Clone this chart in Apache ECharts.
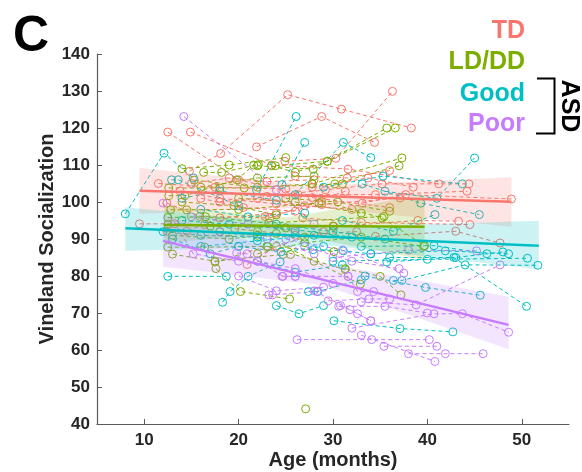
<!DOCTYPE html>
<html>
<head>
<meta charset="utf-8">
<script src="https://cdn.jsdelivr.net/npm/echarts@6/dist/echarts.min.js"></script>
<style>
html, body { margin: 0; padding: 0; background: #fff; }
#chart { width: 582px; height: 472px; }
</style>
</head>
<body>
<div id="chart"></div>
<script>
// Longitudinal Vineland Socialization scores by diagnostic group.
// Each subject is a list of [age in months, score] visits.
const groupNames = ['TD', 'LD/DD', 'Good', 'Poor'];
const groupColors = ['#F8766D', '#7CAE00', '#00BFC4', '#C77CFF'];

const tdSubjects = [
  [[14.8,108.3],[18.1,113.1],[25.2,129],[30.9,125.1],[38.3,120]],
  [[12.5,118.9],[20,106],[27.8,101.2],[36,98.5]],
  [[14.9,118.9],[23.5,110],[31.6,108.9],[41.2,104.9]],
  [[21.9,114.9],[28.8,123.1],[34.4,116.1]],
  [[24.9,111],[30.3,111.8],[36.3,129.9]],
  [[9.5,94.1],[13.2,94.1],[16.4,93.9]],
  [[12.4,99.7],[15.9,96.1],[23.3,95.7],[31.3,102.9]],
  [[23,101.5],[29.2,103.3],[35.2,104.9],[44.4,104.9]],
  [[26.3,102],[34.5,102],[44.2,102.9]],
  [[33.1,99.7],[37.7,102],[48.9,100.8]],
  [[22.8,96.1],[28.8,99.3],[37.1,101.1]],
  [[30.1,93.4],[39,95],[43.3,94.8]],
  [[34.5,90.7],[43,92.1],[47.7,88.9]],
  [[26.8,95.7],[33,94.5],[44.5,93.9]],
  [[12.4,92.1],[14.5,92.1],[18,95.7],[24,97]],
  [[20.9,83.1],[24,88],[29,92]],
  [[13.8,103],[18,101],[24,99.5],[32,98]],
  [[16,101],[20.5,98.5],[26,97.5]],
  [[11.5,105],[17.5,104],[25,103.5]],
  [[27.8,104],[33.7,106.5],[38.5,104]],
  [[19.6,92.8],[26,91],[32.5,92]],
  [[15,105],[19,106.5],[23,105.5],[28,106]],
  [[18,100],[22,101],[27,99]],
  [[26,107],[31.5,106.5],[36,108.5]]
];

const lddSubjects = [
  [[22,109.8],[27.9,108.9],[35.7,120]],
  [[23.9,109.8],[29.4,111],[36.6,120]],
  [[27.8,104.9],[37.3,111.9]],
  [[30.2,104.9],[37,109.8]],
  [[16.3,108],[18.2,108],[22.1,110.1]],
  [[23.5,109.8],[26,108],[29.4,111]],
  [[12.6,103.8],[18,103.8],[20.6,103.8],[27.8,104.9]],
  [[12.6,101.7],[14.3,101.7],[19.8,106],[21.6,110]],
  [[15.3,105.9],[22,104],[31,104.9]],
  [[12.8,97.9],[14.5,97.9],[20,98],[28.5,99.7]],
  [[12.5,95.8],[16.5,96],[23.2,94.3],[35.4,96.1]],
  [[12.5,93.9],[17,93.5],[25,93],[30,93.5]],
  [[12.5,87.8],[16.4,87.8],[23.1,88],[30.1,86.6]],
  [[13,85.9],[17.5,84],[24.7,85.8],[25.5,85.8]],
  [[17.6,82],[20.2,75.8],[25.4,73.8]],
  [[17.5,83.8],[23,88],[31.3,81.7]],
  [[27.1,44.1]],
  [[31.3,82],[35,79.9],[37.2,74.9]],
  [[22,92],[28,84],[32.9,77.8]],
  [[28.8,100.2],[35.2,95.7],[39.7,88.2]],
  [[20,101],[26,100],[33,97]],
  [[14,100],[19.5,99],[24,96.5]],
  [[18,92],[22,91],[27,90.5]],
  [[22,86],[27,89],[33,90.5],[39.6,88]],
  [[25,101],[30.5,100],[36,97.5]],
  [[14,109],[19,110],[25,112]],
  [[16,104],[22,106.5],[28,107]],
  [[13,91],[19,90],[24,91.5]]
];

const goodSubjects = [
  [[8,96.8],[12.1,113.2],[15.2,106.5]],
  [[12.9,106],[13.6,106],[20,99]],
  [[21.9,103.3],[26.1,123.1]],
  [[24.6,104.7],[27,116.1]],
  [[26,102],[31.1,116.1],[34,112]],
  [[29,104],[35.3,107],[43.7,104.9]],
  [[35.5,102.9],[41,101],[45,111.9]],
  [[33.1,104.9],[39.3,99.7],[45.5,96.6]],
  [[31,95],[36.4,92.1],[40.8,96.6]],
  [[33,88],[40.7,88.2],[46.3,86]],
  [[34,86],[41.9,86.8],[48.6,86]],
  [[36,85],[42.8,85],[50.5,71.8]],
  [[30,84],[40,84.5],[50.6,84.8]],
  [[35.7,83.8],[43,85],[48,86.5]],
  [[27.9,87.1],[31.1,86.8],[34,86]],
  [[33.4,80],[39.8,76.9],[45.6,74.8]],
  [[36.4,78.8],[37.3,78.8],[44,83],[51.7,82.9]],
  [[27.4,75.8],[28.4,75.8],[33,79]],
  [[30.1,67.9],[37.1,65.8],[42.7,64.9]],
  [[24,72],[26.4,69.8],[29,72]],
  [[12.5,79.9],[18.7,79.9]],
  [[18.3,72.9],[19.1,75.8],[21,79.9],[24.4,83.8]],
  [[12,92],[16,91],[22,90.5]],
  [[14,95],[19,94],[26,92.5],[32,90.5]],
  [[20,88],[24.5,86.5],[29,88]],
  [[16,98],[21,96],[27,97]],
  [[22,84],[26,81],[31,83]],
  [[24,94],[30,92],[35.5,90]],
  [[13,90],[17,86],[20,88]],
  [[14,101],[18,103],[24,100.5]],
  [[16,88],[22,89.5],[28,91]]
];

const poorSubjects = [
  [[14.2,123.1],[24,103.3],[28,94]],
  [[12,99.7],[15.2,86],[20,84]],
  [[19.8,86.2],[20.9,86],[24.7,79.9],[26,79.9]],
  [[23.2,74.9],[23.6,74.9],[28.3,75.8]],
  [[26.2,62.8],[34.1,62.8],[40.2,62.8]],
  [[35.4,61],[41,61]],
  [[38,59],[41.9,59],[45.9,59]],
  [[33,64],[40.8,56.9]],
  [[32,65.9],[40.7,69.8],[43.7,69.8],[48.6,64.8]],
  [[30,85],[38,87],[45.2,86.8]],
  [[33,73],[38.8,72.2],[47.7,83]],
  [[30.8,72],[32.6,69.8],[34,67.9]],
  [[29.5,73.3],[33.8,73.8],[36,73.8]],
  [[31.6,79.9],[32.6,75.8],[34.3,75.8]],
  [[30.6,71.8],[35.5,71.8],[40,70]],
  [[24.6,79.9],[26,79.9],[31.6,79.9]],
  [[28,76],[31.8,70.9],[34,67.9]],
  [[22,84],[26,82],[30,78]],
  [[25,90],[31,87],[37.5,80.8]],
  [[18,92],[23,90],[28,86]],
  [[27,88],[32,84],[37,82]],
  [[15,96],[21,94],[26,92]],
  [[20,80],[24,76],[29,77]]
];

// Group-level trend lines: [age, fitted score] at each end.
const fitTD   = [[9.5,103.05],[48.9,100.1]];
const fitLDD  = [[12.1,93.8],[39.7,93.3]];
const fitGood = [[8,92.9],[51.8,88.2]];
const fitPoor = [[12,89.5],[48.6,66.8]];

// Confidence bands: [age, lower, upper].
const bandTD   = [[9.5,96.8,109.2],[28,98.6,104.4],[48.9,93.3,106.7]];
const bandLDD  = [[12.1,89,99],[25,91.6,95.8],[39.7,84.4,101.9]];
const bandGood = [[8,86.8,98.6],[30,88.2,93.2],[51.8,81.8,94.9]];
const bandPoor = [[12,82.5,96.5],[29,77.5,83.5],[48.6,60.2,74.4]];

const xTicks = [10,20,30,40,50];

const textColor = '#262626';
const axisColor = '#5a5a5a';
const fontFamily = '"Liberation Sans", Arial, Helvetica, sans-serif';

function subjectSeries(subjects, color) {
  return subjects.map(pts => ({
    type: 'line',
    data: pts,
    symbol: 'circle',
    symbolSize: 8,
    showSymbol: true,
    itemStyle: { color: 'rgba(255,255,255,0)', borderColor: color, borderWidth: 1 },
    lineStyle: { color: color, width: 1, type: [4, 3] },
    z: 2,
    silent: true,
    animation: false
  }));
}

function bandSeries(band, color) {
  return {
    type: 'custom',
    coordinateSystem: 'cartesian2d',
    data: [[band[0][0], band[0][1]]],
    silent: true,
    z: 3,
    animation: false,
    renderItem: (params, api) => {
      const upper = band.map(p => api.coord([p[0], p[2]]));
      const lower = band.slice().reverse().map(p => api.coord([p[0], p[1]]));
      return {
        type: 'polygon',
        shape: { points: upper.concat(lower) },
        style: { fill: color, opacity: 0.2 }
      };
    }
  };
}

function fitSeries(fit, color) {
  return {
    type: 'line',
    data: fit,
    symbol: 'none',
    lineStyle: { color: color, width: 2.5 },
    z: 5,
    silent: true,
    animation: false
  };
}

const subjectsByGroup = [tdSubjects, lddSubjects, goodSubjects, poorSubjects];
const fits = [fitTD, fitLDD, fitGood, fitPoor];
const bands = [bandTD, bandLDD, bandGood, bandPoor];

let series = [];
subjectsByGroup.forEach((s, i) => { series = series.concat(subjectSeries(s, groupColors[i])); });
bands.forEach((b, i) => series.push(bandSeries(b, groupColors[i])));
fits.forEach((f, i) => series.push(fitSeries(f, groupColors[i])));

// Group labels on the right, with the ASD bracket around Good/Poor.
const legendY = [33, 64, 96, 126];
const graphics = groupNames.map((name, i) => ({
  type: 'text',
  right: 57,
  top: legendY[i] - 14,
  style: {
    text: name,
    fill: groupColors[i],
    font: 'bold 25px ' + fontFamily,
    textAlign: 'right'
  }
}));
graphics.push(
  {
    type: 'text', left: 13, top: 12,
    style: { text: 'C', fill: '#000', font: 'bold 50px ' + fontFamily }
  },
  {
    type: 'polyline',
    shape: { points: [[537, 78.5], [554.5, 78.5], [554.5, 133.5], [536, 133.5]] },
    style: { stroke: '#000', lineWidth: 2, fill: null }
  },
  {
    type: 'text', x: 569, y: 106, rotation: -Math.PI / 2,
    style: {
      text: 'ASD', fill: '#000', font: 'bold 25px ' + fontFamily,
      textAlign: 'center', textVerticalAlign: 'middle'
    }
  }
);

const chart = echarts.init(document.getElementById('chart'), null, { renderer: 'canvas' });
chart.setOption({
  animation: false,
  backgroundColor: '#fff',
  grid: { left: 97, right: 13, top: 54, bottom: 48, containLabel: false, outerBoundsMode: 'none' },
  xAxis: {
    type: 'value',
    min: 5,
    max: 55,
    name: 'Age (months)',
    nameLocation: 'middle',
    nameGap: 26,
    nameMoveOverlap: false,
    nameTextStyle: { color: textColor, fontSize: 20, fontWeight: 'bold', fontFamily: fontFamily },
    axisLine: { show: true, lineStyle: { color: axisColor, width: 1.2 } },
    axisTick: { show: true, inside: true, length: 5, customValues: xTicks, lineStyle: { color: axisColor } },
    axisLabel: { customValues: xTicks, color: textColor, fontSize: 17, fontWeight: 'bold', fontFamily: fontFamily, margin: 8 },
    splitLine: { show: false }
  },
  yAxis: {
    type: 'value',
    min: 40,
    max: 140,
    interval: 10,
    name: 'Vineland Socialization',
    nameLocation: 'middle',
    nameGap: 40,
    nameMoveOverlap: false,
    nameRotate: 90,
    nameTextStyle: { color: textColor, fontSize: 20, fontWeight: 'bold', fontFamily: fontFamily },
    axisLine: { show: true, lineStyle: { color: axisColor, width: 1.2 } },
    axisTick: { show: true, inside: true, length: 5, lineStyle: { color: axisColor } },
    axisLabel: { color: textColor, fontSize: 17, fontWeight: 'bold', fontFamily: fontFamily, margin: 7 },
    splitLine: { show: false }
  },
  graphic: graphics,
  series: series
});
</script>
</body>
</html>
